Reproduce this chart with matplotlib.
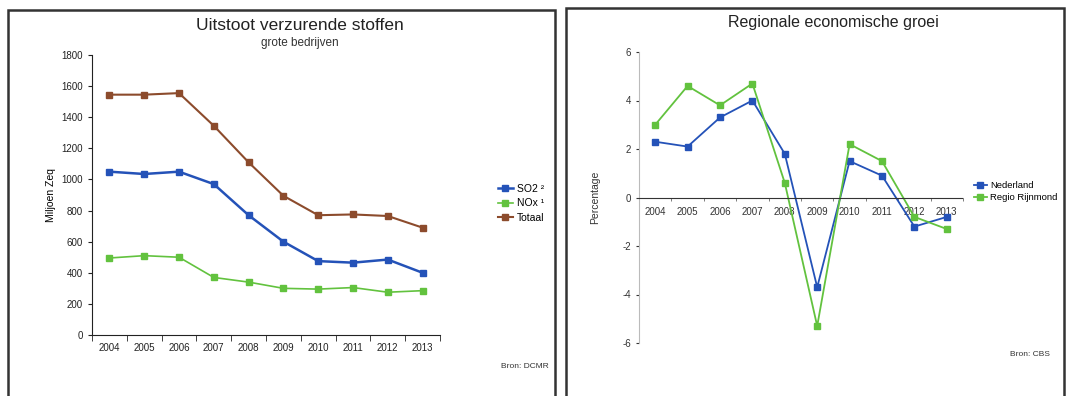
import numpy as np
import matplotlib
matplotlib.use('Agg')
import matplotlib.pyplot as plt
from matplotlib.patches import Rectangle

years = ['2004', '2005', '2006', '2007', '2008', '2009', '2010', '2011', '2012', '2013']

# uitstoot (miljoen Zeq)
so2 = [1050, 1035, 1050, 970, 770, 600, 475, 465, 485, 400]
nox = [495, 510, 500, 370, 340, 300, 295, 305, 275, 285]
totaal = [1545, 1545, 1555, 1345, 1110, 895, 770, 775, 765, 690]

# economische groei (%)
nederland = [2.3, 2.1, 3.3, 4.0, 1.8, -3.7, 1.5, 0.9, -1.2, -0.8]
rijnmond = [3.0, 4.6, 3.8, 4.7, 0.6, -5.3, 2.2, 1.5, -0.8, -1.3]

blue = '#2452b8'
green = '#62c23e'
brown = '#8c4b2c'

plt.rcParams['font.family'] = ['Liberation Sans', 'DejaVu Sans']
plt.rcParams['axes.unicode_minus'] = False

W, H = 1076, 396
fig = plt.figure(figsize=(W / 100, H / 100), dpi=100)

def fx(px):
    return px / W

def fy(py):
    return 1 - py / H

# panel frames
fig.patches.append(Rectangle((fx(8), fy(402)), fx(555 - 8), (402 - 10) / H, fill=False,
                             edgecolor='#333333', linewidth=1.8, transform=fig.transFigure))
fig.patches.append(Rectangle((fx(566), fy(402)), fx(1064 - 566), (402 - 8) / H, fill=False,
                             edgecolor='#333333', linewidth=1.8, transform=fig.transFigure))

x = np.arange(len(years))

# ---- left chart
ax1 = fig.add_axes([fx(92), fy(335), fx(440 - 92), (335 - 55) / H])
ax1.plot(x, so2, '-s', color=blue, lw=1.8, ms=4.5, label='SO2 ²')
ax1.plot(x, nox, '-s', color=green, lw=1.2, ms=4.5, label='NOx ¹')
ax1.plot(x, totaal, '-s', color=brown, lw=1.5, ms=4.5, label='Totaal')
ax1.set_xlim(-0.5, 9.5)
ax1.set_ylim(0, 1800)
ax1.set_yticks(np.arange(0, 1801, 200))
ax1.set_xticks(x)
ax1.set_xticklabels(years)
ax1.set_xticks(np.arange(-0.5, 10, 1), minor=True)
ax1.tick_params(axis='x', which='major', length=0, pad=6)
ax1.tick_params(axis='x', which='minor', length=4, color='#222222')
ax1.tick_params(axis='y', length=3, color='#222222')
ax1.tick_params(labelsize=7, colors='#222222')
for s in ['top', 'right']:
    ax1.spines[s].set_visible(False)
ax1.spines['left'].set_color('#222222')
ax1.spines['bottom'].set_color('#222222')
ax1.set_ylabel('Miljoen Zeq', fontsize=7.5, labelpad=4)
ax1.legend(loc='center left', bbox_to_anchor=(1.14, 0.47), frameon=False, fontsize=7.5,
           handlelength=1.4, handletextpad=0.4, labelspacing=0.45)
fig.text(fx(300), fy(25), 'Uitstoot verzurende stoffen', ha='center', va='center', fontsize=12.5, color='#222222')
fig.text(fx(300), fy(43), 'grote bedrijven', ha='center', va='center', fontsize=8.5, color='#333333')
fig.text(fx(549), fy(366), 'Bron: DCMR', ha='right', va='center', fontsize=6, color='#333333')

# ---- right chart
ax2 = fig.add_axes([fx(639), fy(343), fx(963 - 639), (343 - 52) / H])
ax2.plot(x, nederland, '-s', color=blue, lw=1.3, ms=4.5, label='Nederland')
ax2.plot(x, rijnmond, '-s', color=green, lw=1.3, ms=4.5, label='Regio Rijnmond')
ax2.set_xlim(-0.5, 9.5)
ax2.set_ylim(-6, 6)
ax2.set_yticks(np.arange(-6, 7, 2))
ax2.set_xticks(x)
ax2.set_xticklabels(years)
ax2.set_xticks(np.arange(-0.5, 10, 1), minor=True)
ax2.spines['bottom'].set_position(('data', 0))
ax2.spines['bottom'].set_linestyle((0, (1, 1)))
ax2.spines['bottom'].set_color('#333333')
ax2.spines['left'].set_color('#bbbbbb')
for s in ['top', 'right']:
    ax2.spines[s].set_visible(False)
ax2.tick_params(axis='x', which='major', length=0, pad=7)
ax2.tick_params(axis='x', which='minor', length=2, color='#666666')
ax2.tick_params(axis='y', length=2, color='#999999')
ax2.tick_params(labelsize=7, colors='#333333')
ax2.set_ylabel('Percentage', fontsize=7.5, labelpad=16, color='#333333')
ax2.legend(loc='center left', bbox_to_anchor=(1.035, 0.52), frameon=False, fontsize=6.8,
           handlelength=1.3, handletextpad=0.4, labelspacing=0.3, borderpad=0, borderaxespad=0)
fig.text(fx(833), fy(22), 'Regionale economische groei', ha='center', va='center', fontsize=11.5, color='#222222')
fig.text(fx(1050), fy(355), 'Bron: CBS', ha='right', va='center', fontsize=6, color='#333333')

fig.savefig('out.png', dpi=100)
